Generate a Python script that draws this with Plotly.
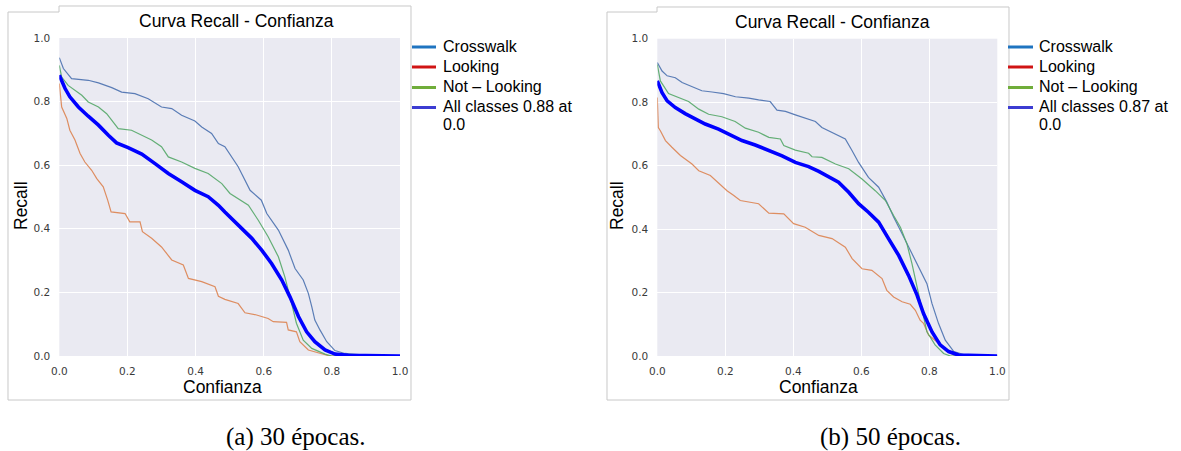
import plotly.graph_objects as go

W, H = 1181, 451

# ---------------- data: (a) 30 epochs ----------------
a_cross_x = [0.0, 0.012, 0.036, 0.085, 0.115, 0.154, 0.183, 0.222, 0.261, 0.30, 0.33, 0.359, 0.398, 0.418, 0.447,
             0.467, 0.486, 0.525, 0.560, 0.593, 0.609, 0.643, 0.672, 0.692, 0.716, 0.731, 0.741, 0.750, 0.765,
             0.785, 0.809, 0.838, 0.897, 1.0]
a_cross_y = [0.938, 0.904, 0.872, 0.867, 0.859, 0.844, 0.830, 0.825, 0.809, 0.783, 0.778, 0.757, 0.739, 0.720, 0.700,
             0.668, 0.658, 0.595, 0.521, 0.490, 0.448, 0.396, 0.333, 0.275, 0.239, 0.197, 0.155, 0.113, 0.082,
             0.045, 0.017, 0.008, 0.003, 0.0]

a_look_x = [0.0, 0.007, 0.022, 0.031, 0.046, 0.061, 0.075, 0.095, 0.110, 0.129, 0.142, 0.152, 0.193, 0.207, 0.237,
            0.244, 0.271, 0.30, 0.33, 0.364, 0.379, 0.418, 0.457, 0.467, 0.486, 0.525, 0.545, 0.579, 0.613, 0.628,
            0.667, 0.672, 0.696, 0.706, 0.731, 0.770, 0.794, 1.0]
a_look_y = [0.857, 0.783, 0.747, 0.710, 0.679, 0.637, 0.610, 0.584, 0.558, 0.532, 0.490, 0.453, 0.448, 0.422, 0.422,
            0.391, 0.370, 0.343, 0.302, 0.286, 0.244, 0.234, 0.218, 0.188, 0.178, 0.165, 0.136, 0.129, 0.118, 0.108,
            0.106, 0.082, 0.076, 0.045, 0.019, 0.008, 0.0, 0.0]

a_not_x = [0.0, 0.007, 0.026, 0.046, 0.066, 0.085, 0.115, 0.139, 0.154, 0.173, 0.212, 0.242, 0.271, 0.30, 0.32,
           0.359, 0.398, 0.437, 0.477, 0.501, 0.516, 0.555, 0.584, 0.613, 0.643, 0.662, 0.682, 0.696, 0.716,
           0.741, 0.780, 0.799, 1.0]
a_not_y = [0.914, 0.877, 0.851, 0.836, 0.820, 0.799, 0.783, 0.762, 0.741, 0.715, 0.710, 0.694, 0.679, 0.658, 0.626,
           0.610, 0.590, 0.574, 0.542, 0.511, 0.500, 0.474, 0.427, 0.375, 0.312, 0.249, 0.165, 0.103, 0.050,
           0.024, 0.006, 0.0, 0.0]

a_all_x = [0.0, 0.017, 0.031, 0.056, 0.085, 0.115, 0.144, 0.168, 0.202, 0.242, 0.281, 0.320, 0.359, 0.398, 0.437,
           0.467, 0.486, 0.525, 0.565, 0.594, 0.623, 0.653, 0.677, 0.702, 0.726, 0.750, 0.780, 0.809, 0.848, 1.0]
a_all_y = [0.883, 0.841, 0.815, 0.783, 0.754, 0.726, 0.694, 0.670, 0.655, 0.635, 0.605, 0.574, 0.548, 0.521, 0.501,
           0.474, 0.453, 0.412, 0.370, 0.333, 0.291, 0.239, 0.186, 0.124, 0.076, 0.045, 0.019, 0.006, 0.002, 0.0]

# ---------------- data: (b) 50 epochs ----------------
b_cross_x = [0.0, 0.014, 0.029, 0.053, 0.073, 0.102, 0.131, 0.161, 0.195, 0.230, 0.269, 0.298, 0.332, 0.352, 0.377,
             0.406, 0.435, 0.465, 0.484, 0.524, 0.553, 0.573, 0.592, 0.621, 0.651, 0.675, 0.695, 0.720, 0.744,
             0.769, 0.793, 0.808, 0.827, 0.847, 0.872, 0.906, 1.0]
b_cross_y = [0.925, 0.898, 0.883, 0.877, 0.862, 0.848, 0.836, 0.832, 0.827, 0.817, 0.813, 0.807, 0.802, 0.775, 0.771,
             0.760, 0.750, 0.739, 0.720, 0.700, 0.684, 0.647, 0.610, 0.563, 0.532, 0.485, 0.438, 0.385, 0.333,
             0.281, 0.228, 0.165, 0.103, 0.050, 0.014, 0.003, 0.0]

b_look_x = [0.0, 0.003, 0.009, 0.024, 0.043, 0.068, 0.102, 0.122, 0.156, 0.185, 0.205, 0.225, 0.244, 0.298, 0.328,
            0.372, 0.401, 0.435, 0.475, 0.514, 0.553, 0.573, 0.602, 0.631, 0.661, 0.675, 0.695, 0.720, 0.744,
            0.759, 0.773, 0.783, 0.798, 0.822, 0.847, 0.872, 0.89, 1.0]
b_look_y = [0.815, 0.720, 0.710, 0.679, 0.658, 0.632, 0.605, 0.584, 0.569, 0.542, 0.521, 0.506, 0.490, 0.480, 0.450,
            0.448, 0.417, 0.406, 0.380, 0.370, 0.343, 0.307, 0.275, 0.270, 0.244, 0.207, 0.186, 0.171, 0.163,
            0.144, 0.113, 0.103, 0.066, 0.045, 0.019, 0.003, 0.0, 0.0]

b_not_x = [0.0, 0.009, 0.033, 0.063, 0.092, 0.122, 0.151, 0.190, 0.229, 0.259, 0.298, 0.328, 0.362, 0.372, 0.406,
           0.445, 0.455, 0.484, 0.524, 0.563, 0.602, 0.641, 0.671, 0.695, 0.715, 0.734, 0.749, 0.764, 0.778,
           0.793, 0.817, 0.842, 0.862, 1.0]
b_not_y = [0.919, 0.867, 0.827, 0.815, 0.802, 0.778, 0.762, 0.754, 0.739, 0.718, 0.705, 0.689, 0.684, 0.663, 0.649,
           0.639, 0.628, 0.626, 0.605, 0.590, 0.558, 0.521, 0.490, 0.443, 0.406, 0.354, 0.291, 0.218, 0.144,
           0.076, 0.035, 0.008, 0.0, 0.0]

b_all_x = [0.0, 0.014, 0.029, 0.053, 0.082, 0.112, 0.141, 0.180, 0.220, 0.249, 0.288, 0.328, 0.367, 0.406, 0.445,
           0.475, 0.499, 0.533, 0.563, 0.592, 0.621, 0.651, 0.680, 0.710, 0.739, 0.764, 0.783, 0.808, 0.832,
           0.857, 0.886, 1.0]
b_all_y = [0.867, 0.830, 0.804, 0.783, 0.764, 0.747, 0.731, 0.715, 0.694, 0.679, 0.665, 0.649, 0.631, 0.610, 0.597,
           0.582, 0.569, 0.548, 0.516, 0.480, 0.453, 0.422, 0.370, 0.317, 0.254, 0.192, 0.134, 0.076, 0.035,
           0.014, 0.003, 0.0]

tick_vals = [0.0, 0.2, 0.4, 0.6, 0.8, 1.0]
tick_text = ["0.0", "0.2", "0.4", "0.6", "0.8", "1.0"]
legend_names = ["Crosswalk", "Looking", "Not \u2013 Looking"]
all_labels = ["All classes 0.88 at", "All classes 0.87 at"]
titles = ["Curva Recall - Confianza", "Curva Recall - Confianza"]
captions = ["(a) 30 \u00e9pocas.", "(b) 50 \u00e9pocas."]

# ---------------- styles ----------------
C_CROSS, C_LOOK, C_NOT, C_ALL = "#4C72B0", "#DD8452", "#55A868", "#0000FF"
LEG_COLORS = ["#1f74c0", "#d01414", "#70ad3a", "#3c3cd2"]


def px(x):
    return x / W


def py(y):
    return 1 - y / H


fig = go.Figure()

panels = [
    dict(data=[(a_cross_x, a_cross_y), (a_look_x, a_look_y), (a_not_x, a_not_y), (a_all_x, a_all_y)],
         xa="x", ya="y"),
    dict(data=[(b_cross_x, b_cross_y), (b_look_x, b_look_y), (b_not_x, b_not_y), (b_all_x, b_all_y)],
         xa="x2", ya="y2"),
]

for p in panels:
    for (xs, ys), col, wd, nm in zip(p["data"], [C_CROSS, C_LOOK, C_NOT, C_ALL], [1.2, 1.2, 1.2, 3.6],
                                     legend_names + ["all classes"]):
        fig.add_trace(go.Scatter(x=xs, y=ys, mode="lines", line=dict(color=col, width=wd),
                                 opacity=0.9 if wd < 2 else 1.0, xaxis=p["xa"], yaxis=p["ya"],
                                 showlegend=False, name=nm, hoverinfo="skip"))

axis_common = dict(range=[0, 1], tickvals=tick_vals, ticktext=tick_text, showgrid=True, gridcolor="white",
                   gridwidth=1.2, zeroline=False, showline=False, ticks="", automargin=False,
                   tickfont=dict(family="DejaVu Sans", size=10.5, color="#3a3a3a"), fixedrange=True)

fig.update_layout(
    width=W, height=H, margin=dict(l=0, r=0, t=0, b=0, autoexpand=False),
    paper_bgcolor="white", plot_bgcolor="#EAEAF2",
    xaxis=dict(domain=[px(59.3), px(400.0)], anchor="y", ticklabelstandoff=7, **axis_common),
    yaxis=dict(domain=[py(356.0), py(38.0)], anchor="x", ticklabelstandoff=8, **axis_common),
    xaxis2=dict(domain=[px(657.3), px(997.3)], anchor="y2", ticklabelstandoff=7, **axis_common),
    yaxis2=dict(domain=[py(356.0), py(38.7)], anchor="x2", ticklabelstandoff=8, **axis_common),
    showlegend=False,
)


def path(points):
    return "M " + " L ".join(f"{px(x):.5f},{py(y):.5f}" for x, y in points) + " Z"


shapes = []
# panel frames
for pts in [[(59, 12), (8, 12), (8, 400), (411, 400), (411, 6), (59, 6)],
            [(657, 12), (607, 12), (607, 400), (1009, 400), (1009, 7), (657, 7)]]:
    shapes.append(dict(type="path", xref="paper", yref="paper", path=path(pts),
                       line=dict(color="#c8c8c8", width=1), fillcolor="rgba(0,0,0,0)", layer="below"))

annotations = []
LF = "Liberation Sans, Arial, sans-serif"
legend_rows = [46, 66, 86.5, 106.5]
for lx0, lx1, tx, lab, cont_y in [(412, 436, 441, all_labels[0], 124.5), (1008, 1033, 1037, all_labels[1], 125)]:
    for i, (row, col) in enumerate(zip(legend_rows, LEG_COLORS)):
        shapes.append(dict(type="line", xref="paper", yref="paper", x0=px(lx0), x1=px(lx1),
                           y0=py(row + 1), y1=py(row + 1), line=dict(color=col, width=3)))
        text = legend_names[i] if i < 3 else lab
        annotations.append(dict(x=px(tx), y=py(row), xref="paper", yref="paper", text=text, showarrow=False,
                                xanchor="left", yanchor="middle", font=dict(family=LF, size=16, color="black")))
    annotations.append(dict(x=px(tx), y=py(cont_y), xref="paper", yref="paper", text="0.0", showarrow=False,
                            xanchor="left", yanchor="middle", font=dict(family=LF, size=16, color="black")))

# titles and axis titles
for tx, ty, rx, ry, cx, cy, t in [(236, 21, 21, 206, 222, 387, titles[0]),
                                  (832.5, 22, 617, 206, 818, 387, titles[1])]:
    annotations.append(dict(x=px(tx), y=py(ty), xref="paper", yref="paper", text=t, showarrow=False,
                            xanchor="center", yanchor="middle", font=dict(family=LF, size=17.5, color="black")))
    annotations.append(dict(x=px(rx), y=py(ry), xref="paper", yref="paper", text="Recall", showarrow=False,
                            textangle=-90, xanchor="center", yanchor="middle",
                            font=dict(family=LF, size=17.5, color="black")))
    annotations.append(dict(x=px(cx), y=py(cy), xref="paper", yref="paper", text="Confianza", showarrow=False,
                            xanchor="center", yanchor="middle", font=dict(family=LF, size=17.5, color="black")))

# captions
for cx, cap in [(296, captions[0]), (890, captions[1])]:
    annotations.append(dict(x=px(cx), y=py(437), xref="paper", yref="paper", text=cap, showarrow=False,
                            xanchor="center", yanchor="middle",
                            font=dict(family="Liberation Serif, Times New Roman, serif", size=25, color="black")))

fig.update_layout(shapes=shapes, annotations=annotations)
fig.write_html("out.html")
